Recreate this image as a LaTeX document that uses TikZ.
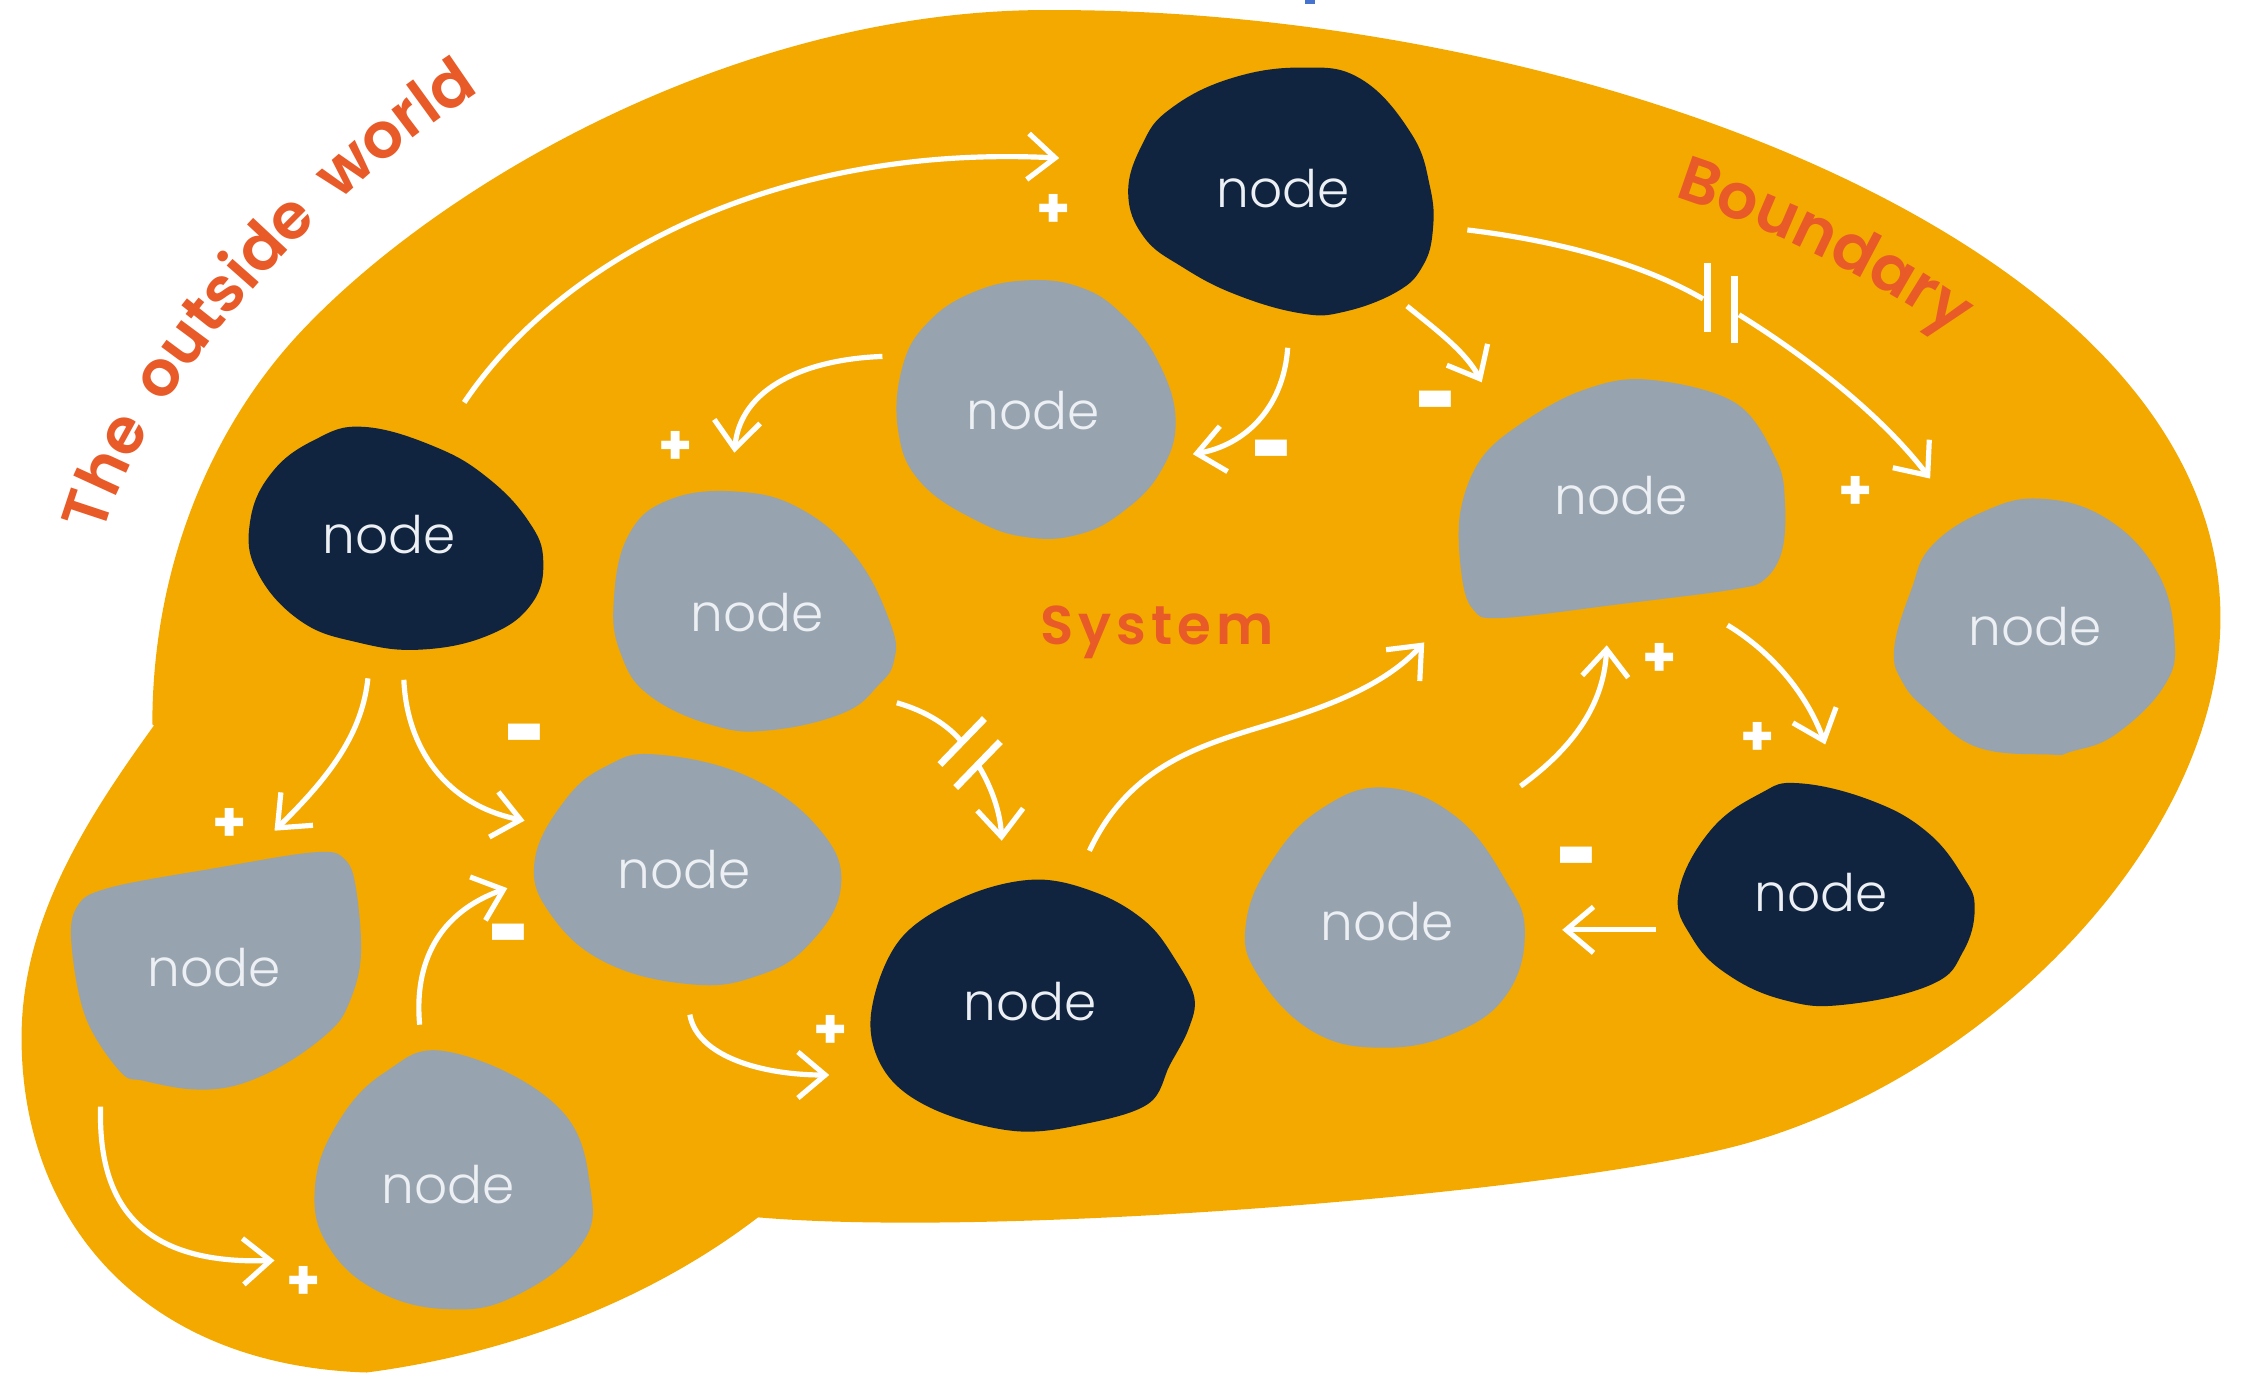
\documentclass[tikz,border=0pt]{standalone}
\usepackage{fontspec}
\usetikzlibrary{arrows.meta,decorations.text}
\IfFontExistsTF{Poppins Light}{\def\nodename{Poppins Light}}{%
 \IfFontExistsTF{Poppins-Light}{\def\nodename{Poppins-Light}}{%
  \IfFontExistsTF{Poppins ExtraLight}{\def\nodename{Poppins ExtraLight}}{\def\nodename{Poppins}}}}
\IfFontExistsTF{Poppins SemiBold}{\def\labname{Poppins SemiBold}\def\labweight{}}{%
 \IfFontExistsTF{Poppins-SemiBold}{\def\labname{Poppins-SemiBold}\def\labweight{}}{%
  \def\labname{Poppins}\def\labweight{\bfseries}}}
\newfontfamily\nodefont{\nodename}
\newfontfamily\outfont{\labname}[LetterSpace=19]
\newfontfamily\bndfont{\labname}[LetterSpace=15]
\newfontfamily\sysfont{\labname}[LetterSpace=9]
\newfontfamily\signfont{Poppins}
\definecolor{orng}{RGB}{243,169,0}
\definecolor{navy}{RGB}{16,36,63}
\definecolor{slate}{RGB}{151,163,175}
\definecolor{lab}{RGB}{232,90,40}
\definecolor{ntxt}{RGB}{236,239,243}
\definecolor{bluemark}{RGB}{70,115,205}
\begin{document}
\begin{tikzpicture}[x=0.5pt,y=-0.5pt,
  ground/.style={fill=orng},
  darkblob/.style={fill=navy},
  grayblob/.style={fill=slate},
  lbl/.style={text=ntxt,font=\nodefont\fontsize{18}{21}\selectfont,inner sep=0pt},
  arr/.style={draw=white,line width=1.8pt,-{Straight Barb[length=9.5pt,width=16pt]}},
  line/.style={draw=white,line width=1.8pt},
  bar/.style={draw=white,line width=2.4pt},
  sgn/.style={text=white,font=\signfont\bfseries\fontsize{19}{21}\selectfont,inner sep=0pt},
  minus/.style={text=white,font=\signfont\bfseries\fontsize{19}{21}\selectfont,inner sep=0pt},
  title/.style={text=lab,font=\sysfont\labweight\fontsize{19}{22}\selectfont,inner sep=0pt}
]
\useasboundingbox (0,0) rectangle (1560,955.33);
\fill[fill=bluemark] (908,0) rectangle (915,3);
% background: main body and lower lobe
\fill[ground] (106,504) .. controls (106,390) and (150,292) .. (213,227)
  .. controls (313,123) and (520,5) .. (734,7)
  .. controls (1100,7) and (1545,170) .. (1545,430)
  .. controls (1545,580) and (1390,745) .. (1217,795)
  .. controls (1100,829) and (700,862) .. (527,847) -- cycle;
\fill[ground] (540,837) .. controls (470,895) and (370,940) .. (255,955)
  .. controls (100,950) and (15,850) .. (15,722)
  .. controls (15,640) and (60,570) .. (107,505)
  -- (170,470) -- (580,780) -- cycle;
% node shapes
\fill[darkblob] plot[smooth cycle,tension=0.7] coordinates {
 (905,47) (947,55) (982,93) (995,130) (997,160) (990,185) (972,203) (935,217)
 (905,218) (860,205) (823,186) (796,165) (785,134) (795,100) (814,76) (855,55)};
\fill[grayblob] plot[smooth cycle,tension=0.7] coordinates {
 (716,195) (752,200) (780,218) (805,250) (818,292) (807,329) (780,357) (750,372)
 (716,374) (681,363) (641,336) (625,300) (628,255) (646,224) (678,203)};
\fill[darkblob] plot[smooth cycle,tension=0.7] coordinates {
 (253,297) (303,311) (340,333) (368,363) (378,390) (370,420) (340,442) (293,452)
 (249,447) (209,432) (179,398) (174,363) (189,329) (219,306)};
\fill[grayblob] plot[smooth cycle,tension=0.7] coordinates {
 (512,342) (557,354) (596,388) (620,435) (622,460) (611,477) (587,496) (537,508)
 (497,505) (452,484) (432,455) (427,419) (437,373) (465,348)};
\fill[grayblob] plot[smooth cycle,tension=0.6] coordinates {
 (1145,264) (1207,280) (1236,320) (1242,350) (1240,383) (1228,403) (1207,410)
 (1130,420) (1045,430) (1025,424) (1017,400) (1016,357) (1030,320) (1058,295) (1100,272)};
\fill[grayblob] plot[smooth cycle,tension=0.7] coordinates {
 (1420,347) (1466,361) (1501,398) (1513,444) (1506,477) (1472,511) (1441,523)
 (1426,525) (1376,520) (1342,495) (1324,475) (1318,451) (1330,410) (1344,380) (1380,356)};
\fill[grayblob] plot[smooth cycle,tension=0.7] coordinates {
 (457,525) (522,541) (571,578) (585,618) (562,658) (527,679) (482,685) (422,670)
 (383,636) (372,599) (393,557) (422,533)};
\fill[darkblob] plot[smooth cycle,tension=0.6] coordinates {
 (721,612) (765,622) (798,642) (818,668) (831,694) (827,716) (814,741) (799,768)
 (755,782) (706,787) (650,772) (616,746) (606,706) (626,654) (671,624)};
\fill[grayblob] plot[smooth cycle,tension=0.7] coordinates {
 (964,548) (1014,569) (1049,615) (1061,649) (1049,691) (1014,718) (964,729)
 (914,718) (875,678) (867,642) (885,599) (919,563)};
\fill[darkblob] plot[smooth cycle,tension=0.7] coordinates {
 (1252,545) (1302,557) (1341,579) (1366,610) (1374,632) (1366,662) (1344,685)
 (1284,699) (1242,696) (1202,678) (1177,652) (1168,621) (1190,578) (1225,552)};
\fill[grayblob] plot[smooth cycle,tension=0.6] coordinates {
 (75,618) (150,604) (219,593) (240,598) (248,620) (251,667) (242,700) (229,718)
 (199,740) (165,755) (134,758) (100,752) (84,746) (60,709) (50,660) (53,632)};
\fill[grayblob] plot[smooth cycle,tension=0.7] coordinates {
 (313,732) (388,770) (411,828) (403,868) (358,902) (313,911) (264,899) (229,868)
 (219,828) (234,783) (268,746)};
% node labels
\node[lbl] (n1) at (893,131) {node};
\node[lbl] (n2) at (719,286) {node};
\node[lbl] (n3) at (271,372) {node};
\node[lbl] (n4) at (527,426) {node};
\node[lbl] (n5) at (1128,345) {node};
\node[lbl] (n6) at (1416,436) {node};
\node[lbl] (n7) at (476,605) {node};
\node[lbl] (n8) at (717,697) {node};
\node[lbl] (n9) at (965,641) {node};
\node[lbl] (n10) at (1267,621) {node};
\node[lbl] (n11) at (149,673) {node};
\node[lbl] (n12) at (312,824) {node};
% titles
\path[decorate,decoration={text along path,text align=left,
  text={|\outfont\labweight\fontsize{22}{26}\selectfont\color{lab}|The outside world}}]
  (72,372) .. controls (92,290) and (222,105) .. (430,10);
\path[decorate,decoration={text along path,text align=left,
  text={|\bndfont\labweight\fontsize{22}{26}\selectfont\color{lab}|Boundary}}]
  (1165,137) .. controls (1250,165) and (1330,205) .. (1430,285);
\node[title] (sys) at (805,440) {System};
% connector end points
\coordinate (a1s) at (323,280);  \coordinate (a1e) at (737,110);
\coordinate (a2s) at (896,242);  \coordinate (a2e) at (830,316);
\coordinate (a3s) at (979,213);  \coordinate (a3e) at (1031,266);
\coordinate (a4s) at (1021,160); \coordinate (a4b) at (1185,208);
\coordinate (a4c) at (1210,219); \coordinate (a4e) at (1343,333);
\coordinate (a5s) at (614,248);  \coordinate (a5e) at (511,315);
\coordinate (a6s) at (256,472);  \coordinate (a6e) at (191,578);
\coordinate (a7s) at (281,473);  \coordinate (a7e) at (365,571);
\coordinate (a8s) at (70,770);   \coordinate (a8e) at (191,877);
\coordinate (a9s) at (292,713);  \coordinate (a9e) at (353,618);
\coordinate (a10s) at (480,706); \coordinate (a10e) at (577,748);
\coordinate (a11s) at (624,489); \coordinate (a11b) at (669,516);
\coordinate (a11c) at (681,533); \coordinate (a11e) at (697,585);
\coordinate (a12s) at (758,592); \coordinate (a12e) at (991,447);
\coordinate (a13s) at (1058,547); \coordinate (a13e) at (1118,449);
\coordinate (a14s) at (1202,435); \coordinate (a14e) at (1270,518);
\coordinate (a15s) at (1152,647); \coordinate (a15e) at (1087,647);
% connectors
\draw[arr] (a1s) .. controls (390,180) and (540,100) .. (a1e);
\draw[arr] (a2s) .. controls (893,285) and (865,310) .. (a2e);
\draw[arr] (a3s) .. controls (1000,230) and (1020,245) .. (a3e);
\draw[line] (a4s) .. controls (1080,167) and (1140,182) .. (a4b);
\draw[arr] (a4c) .. controls (1260,250) and (1310,290) .. (a4e);
\draw[bar] (1188,183) -- (1188,231);
\draw[bar] (1207,192) -- (1207,239);
\draw[arr] (a5s) .. controls (560,250) and (515,270) .. (a5e);
\draw[arr] (a6s) .. controls (252,510) and (230,540) .. (a6e);
\draw[arr] (a7s) .. controls (283,520) and (310,560) .. (a7e);
\draw[arr] (a8s) .. controls (68,840) and (100,880) .. (a8e);
\draw[arr] (a9s) .. controls (288,670) and (305,635) .. (a9e);
\draw[arr] (a10s) .. controls (485,735) and (530,748) .. (a10e);
\draw[line] (a11s) .. controls (645,495) and (660,505) .. (a11b);
\draw[arr] (a11c) .. controls (690,548) and (696,565) .. (a11e);
\draw[bar] (654,532) -- (685,500);
\draw[bar] (665,548) -- (696,516);
\draw[arr] (a12s) .. controls (785,535) and (830,520) .. (880,505)
                  .. controls (930,490) and (965,475) .. (a12e);
\draw[arr] (a13s) .. controls (1095,520) and (1116,490) .. (a13e);
\draw[arr] (a14s) .. controls (1235,455) and (1258,485) .. (a14e);
\draw[arr] (a15s) -- (a15e);
% signs
\node[sgn] (p1) at (733,147) {+};
\node[sgn] (p2) at (470,312) {+};
\node[sgn] (p3) at (160,574) {+};
\node[sgn] (p4) at (211,893) {+};
\node[sgn] (p5) at (578,718) {+};
\node[sgn] (p6) at (1155,459) {+};
\node[sgn] (p7) at (1223,514) {+};
\node[sgn] (p8) at (1291,343) {+};
\node[minus] (m1) at (885,323) {\scalebox{1.05}[2.1]{–}};
\node[minus] (m2) at (999,289) {\scalebox{1.05}[2.1]{–}};
\node[minus] (m3) at (365,521) {\scalebox{1.05}[2.1]{–}};
\node[minus] (m4) at (354,660) {\scalebox{1.05}[2.1]{–}};
\node[minus] (m5) at (1097,606) {\scalebox{1.05}[2.1]{–}};
\end{tikzpicture}
\end{document}
